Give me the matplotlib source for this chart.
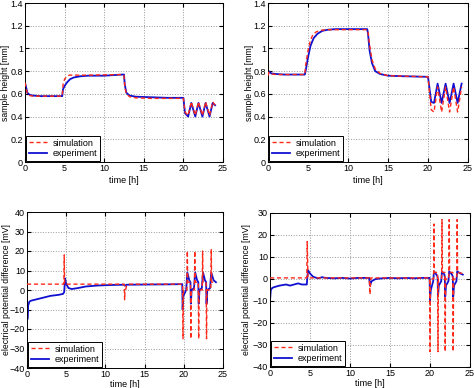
import matplotlib
matplotlib.use("Agg")
import matplotlib.pyplot as plt

plt.rcParams['font.family'] = ['Liberation Sans', 'DejaVu Sans']

# --- top left: sample height ---
tl_exp_t = [0, 0.1, 0.3, 0.6, 1, 2, 3, 4, 4.7, 4.8, 5.0, 5.3, 5.7, 6.2, 7, 8, 10, 12.3, 12.5,
            12.6, 12.8, 13.2, 14, 16, 18, 20.0, 20.2, 20.6, 21.0, 21.5, 21.9, 22.4, 22.8, 23.3, 23.7, 24.0]
tl_exp_v = [0.70, 0.67, 0.61, 0.59, 0.585, 0.58, 0.58, 0.58, 0.58, 0.64, 0.67, 0.70, 0.73, 0.745, 0.755, 0.76,
            0.76, 0.77, 0.77, 0.68, 0.61, 0.585, 0.575, 0.57, 0.565, 0.565, 0.43, 0.40, 0.52, 0.40, 0.52, 0.40,
            0.52, 0.40, 0.52, 0.50]
tl_sim_t = [0, 0.1, 0.3, 0.6, 1, 4.7, 4.8, 5.0, 5.3, 5.6, 6, 8, 12.3, 12.5, 12.6, 12.8, 13.2, 14, 16,
            20.0, 20.2, 20.6, 21.0, 21.5, 21.9, 22.4, 22.8, 23.3, 23.7, 24.0]
tl_sim_v = [0.70, 0.66, 0.60, 0.585, 0.58, 0.58, 0.68, 0.73, 0.755, 0.765, 0.765, 0.765, 0.77, 0.76, 0.66,
            0.60, 0.575, 0.565, 0.56, 0.56, 0.44, 0.41, 0.53, 0.41, 0.53, 0.41, 0.53, 0.41, 0.53, 0.50]

# --- top right: sample height ---
tr_exp_t = [0, 0.1, 0.4, 1, 2, 4.6, 4.7, 5.0, 5.3, 5.7, 6.2, 6.8, 7.5, 8.5, 12.4, 12.5, 12.7, 13.0, 13.4,
            14, 15, 17, 20.0, 20.4, 20.75, 21.2, 21.7, 22.2, 22.7, 23.2, 23.7, 24.2]
tr_exp_v = [0.76, 0.80, 0.78, 0.775, 0.77, 0.77, 0.80, 0.92, 1.02, 1.09, 1.13, 1.155, 1.165, 1.17, 1.17, 1.13,
            0.98, 0.87, 0.80, 0.775, 0.76, 0.755, 0.75, 0.53, 0.52, 0.69, 0.52, 0.69, 0.52, 0.69, 0.52, 0.69]
tr_sim_t = [0, 0.1, 0.4, 1, 4.6, 4.7, 5.0, 5.3, 5.6, 6, 6.6, 7.5, 12.4, 12.5, 12.7, 13.0, 13.4, 14, 15,
            20.0, 20.4, 20.75, 21.2, 21.7, 22.2, 22.7, 23.2, 23.7, 24.2]
tr_sim_v = [0.76, 0.79, 0.775, 0.77, 0.77, 0.85, 0.98, 1.07, 1.12, 1.145, 1.16, 1.165, 1.165, 1.15, 1.03,
            0.90, 0.82, 0.78, 0.76, 0.75, 0.46, 0.44, 0.66, 0.44, 0.66, 0.44, 0.66, 0.44, 0.66]

# --- bottom left: electrical potential difference ---
bl_exp_t = [0, 0.05, 0.15, 0.3, 0.5, 1, 2, 3, 4, 4.6, 4.75, 4.85, 5.0, 5.3, 5.7, 6.5, 7.5, 9, 11, 12.4,
            12.5, 12.7, 15, 18, 19.8, 19.85, 19.95, 20.3, 20.45, 20.7, 20.85, 20.9, 21.0, 21.3, 21.45, 21.7,
            21.85, 21.9, 22.0, 22.3, 22.45, 22.7, 22.85, 22.9, 23.0, 23.35, 23.5, 23.8, 24.1]
bl_exp_v = [0, -15, -8, -6, -5.5, -5, -4, -3, -2.5, -2, -1, 6, 3, 1, 0.5, 1, 1.8, 2.3, 2.6, 2.7,
            2.2, 2.7, 2.8, 2.9, 3, -10, -3, 0, 9, 5, 4, -7, 0, 1, 9, 5,
            4, -7, 0, 1, 9, 5, 4, -7, 0, 1, 9, 5, 4]
bl_sim_t = [0, 4.7, 4.75, 4.8, 12.4, 12.45, 12.5, 12.7, 13.0, 19.85, 19.9, 19.95, 20.4, 20.45, 20.5,
            20.85, 20.9, 20.95, 21.35, 21.4, 21.45, 21.85, 21.9, 21.95, 22.35, 22.4, 22.45,
            22.85, 22.9, 22.95, 23.45, 23.5, 23.55, 24.1]
bl_sim_v = [3, 3, 18, 3, 3, -5, -1, 2, 3, 3, -25, 0, 0, 20, 4,
            4, -25, 0, 0, 20, 4, 4, -25, 0, 0, 20, 4,
            4, -25, 0, 0, 21, 4, 4]

# --- bottom right: electrical potential difference ---
br_exp_t = [0, 0.1, 0.3, 0.7, 1.2, 2, 2.5, 3, 3.5, 4, 4.6, 4.65, 4.75, 5.0, 5.4, 6, 6.5, 7, 8, 9, 10, 11,
            12.4, 12.5, 12.7, 13.2, 14, 15, 16, 17, 18, 19, 19.95, 20.0, 20.1, 20.4, 20.5, 20.8, 20.95,
            21.0, 21.1, 21.4, 21.5, 21.8, 21.85, 21.9, 22.0, 22.3, 22.4, 22.75, 22.85, 22.9, 23.0, 23.3,
            23.4, 23.8, 24.1]
br_exp_v = [-10, -5, -4, -3.5, -3, -2.5, -3, -2.5, -2, -2.5, -2.5, 0, 4, 2.5, 1, 0.3, 0.8, 0.5, 0.3, 0.5,
            0.2, 0.5, 0.5, -3, -1, 0, 0.3, 0.5, 0.3, 0.5, 0.3, 0.5, 0.5, -10, -5, -1, 3.5, 2, 1,
            -8, -3, -1, 3.5, 2, 1, -8, -3, -1, 3.5, 2, 1, -8, -3, -1,
            3.5, 2.5, 2]
br_sim_t = [0, 4.6, 4.65, 4.75, 12.4, 12.5, 12.6, 19.95, 20.0, 20.05, 20.45, 20.5, 20.55, 20.95, 21.0,
            21.05, 21.45, 21.5, 21.55, 21.85, 21.9, 21.95, 22.35, 22.4, 22.45, 22.85, 22.9, 22.95,
            23.35, 23.4, 23.45, 24.1]
br_sim_v = [0.5, 0.5, 17, 0.5, 0.5, -7, 0.5, 0.5, -33, 0, 0, 25, 3, 3, -33,
            0, 0, 27, 3, 3, -33, 0, 0, 27, 3, 3, -33, 0,
            0, 27, 3, 2.5]

x_ticks = [0, 5, 10, 15, 20, 25]
h_ticks = [0, 0.2, 0.4, 0.6, 0.8, 1, 1.2, 1.4]
h_labels = ['0', '0.2', '0.4', '0.6', '0.8', '1', '1.2', '1.4']

FS = 6.5
W, H = 474, 388


def px_axes(left, right, top, bottom):
    # axes rectangle from pixel edges
    return [left / W, 1 - bottom / H, (right - left) / W, (bottom - top) / H]


def draw_panel(ax, sim_t, sim_v, exp_t, exp_v, ylabel, ylim, yticks, ylabels, lab_px, xlab_px):
    ax.plot(sim_t, sim_v, color='#ff2a1a', linestyle='--', linewidth=1.0, dashes=(3, 2),
            label='simulation', zorder=3)
    ax.plot(exp_t, exp_v, color='#1010d0', linewidth=1.3, label='experiment', zorder=2)
    ax.set_xlim(0, 25)
    ax.set_ylim(*ylim)
    ax.set_xticks(x_ticks)
    ax.set_yticks(yticks)
    if ylabels is not None:
        ax.set_yticklabels(ylabels)
    ax.grid(True, linestyle=':', color='#999999', linewidth=0.7)
    ax.tick_params(direction='in', top=True, right=True, labelsize=FS, length=3, pad=1.5)
    ax.set_xlabel('time [h]', fontsize=FS)
    ax.set_ylabel(ylabel, fontsize=6.2)
    # place the axis labels at fixed pixel positions (ylabel: right edge of rotated text)
    bb = ax.get_position()
    ax.yaxis.set_label_coords((lab_px / W - bb.x0) / bb.width, 0.5)
    ax.xaxis.set_label_coords(0.5, ((1 - xlab_px / H) - bb.y0) / bb.height)
    for s in ax.spines.values():
        s.set_linewidth(0.7)
    leg = ax.legend(loc='lower left', fontsize=FS, fancybox=False, framealpha=1,
                    edgecolor='black', borderaxespad=0.15, handlelength=2.0,
                    borderpad=0.3, labelspacing=0.15, handletextpad=0.6)
    leg.get_frame().set_linewidth(0.7)


fig = plt.figure(figsize=(4.74, 3.88), dpi=100)

ax1 = fig.add_axes(px_axes(25, 223, 3, 162))
draw_panel(ax1, tl_sim_t, tl_sim_v, tl_exp_t, tl_exp_v, 'sample height [mm]', (0, 1.4), h_ticks, h_labels,
           10, 176)

ax2 = fig.add_axes(px_axes(268, 468, 3, 162))
draw_panel(ax2, tr_sim_t, tr_sim_v, tr_exp_t, tr_exp_v, 'sample height [mm]', (0, 1.4), h_ticks, h_labels,
           254, 176)

ax3 = fig.add_axes(px_axes(27, 223, 212, 368))
draw_panel(ax3, bl_sim_t, bl_sim_v, bl_exp_t, bl_exp_v, 'electrical potential difference [mV]',
           (-40, 40), [-40, -30, -20, -10, 0, 10, 20, 30, 40], None, 11, 380)

ax4 = fig.add_axes(px_axes(270, 470, 213, 367))
draw_panel(ax4, br_sim_t, br_sim_v, br_exp_t, br_exp_v, 'electrical potential difference [mV]',
           (-40, 30), [-40, -30, -20, -10, 0, 10, 20, 30], None, 251, 379)

fig.savefig('out.png', dpi=100)
